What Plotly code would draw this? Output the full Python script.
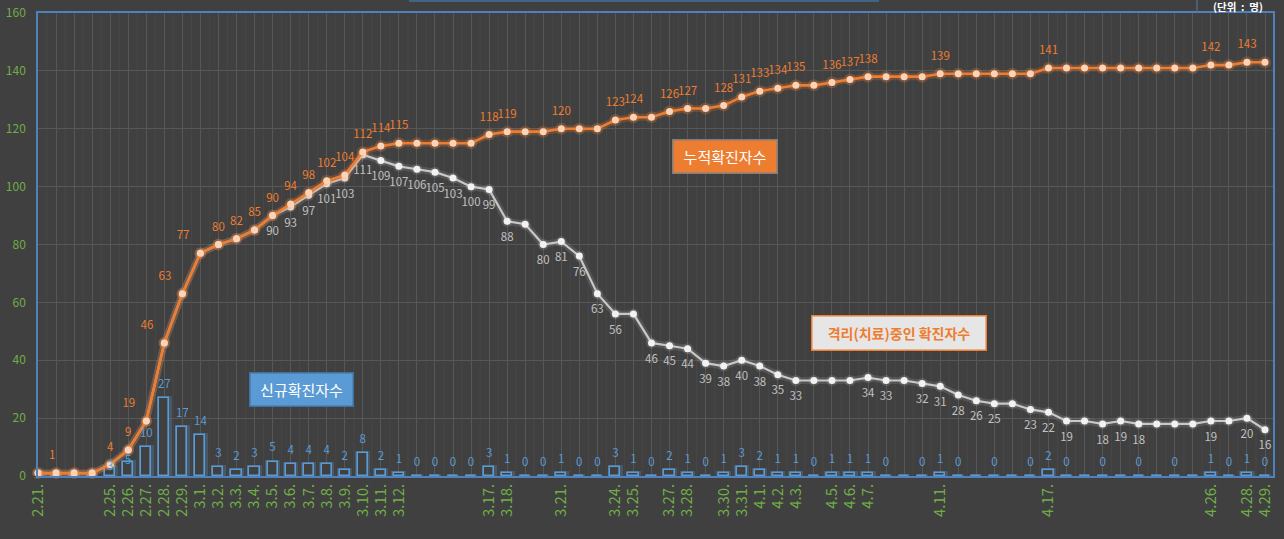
import plotly.graph_objects as go

# ---------------- data ----------------
dates = ["2.21.", "2.22.", "2.23.", "2.24.", "2.25.", "2.26.", "2.27.", "2.28.", "2.29.",
         "3.1.", "3.2.", "3.3.", "3.4.", "3.5.", "3.6.", "3.7.", "3.8.", "3.9.", "3.10.",
         "3.11.", "3.12.", "3.13.", "3.14.", "3.15.", "3.16.", "3.17.", "3.18.", "3.19.", "3.20.",
         "3.21.", "3.22.", "3.23.", "3.24.", "3.25.", "3.26.", "3.27.", "3.28.", "3.29.", "3.30.",
         "3.31.", "4.1.", "4.2.", "4.3.", "4.4.", "4.5.", "4.6.", "4.7.", "4.8.", "4.9.",
         "4.10.", "4.11.", "4.12.", "4.13.", "4.14.", "4.15.", "4.16.", "4.17.", "4.18.", "4.19.",
         "4.20.", "4.21.", "4.22.", "4.23.", "4.24.", "4.25.", "4.26.", "4.27.", "4.28.", "4.29."]

new_cases = [1, 0, 0, 0, 3, 5, 10, 27, 17,
             14, 3, 2, 3, 5, 4, 4, 4, 2, 8,
             2, 1, 0, 0, 0, 0, 3, 1, 0, 0,
             1, 0, 0, 3, 1, 0, 2, 1, 0, 1,
             3, 2, 1, 1, 0, 1, 1, 1, 0, 0,
             0, 1, 0, 0, 0, 0, 0, 2, 0, 0,
             0, 0, 0, 0, 0, 0, 1, 0, 1, 0]

cumulative = [1, 1, 1, 1, 4, 9, 19, 46, 63,
              77, 80, 82, 85, 90, 94, 98, 102, 104, 112,
              114, 115, 115, 115, 115, 115, 118, 119, 119, 119,
              120, 120, 120, 123, 124, 124, 126, 127, 127, 128,
              131, 133, 134, 135, 135, 136, 137, 138, 138, 138,
              138, 139, 139, 139, 139, 139, 139, 141, 141, 141,
              141, 141, 141, 141, 141, 141, 142, 142, 143, 143]

in_treatment = [1, 1, 1, 1, 4, 9, 19, 46, 63,
                77, 80, 82, 85, 90, 93, 97, 101, 103, 111,
                109, 107, 106, 105, 103, 100, 99, 88, 87, 80,
                81, 76, 63, 56, 56, 46, 45, 44, 39, 38,
                40, 38, 35, 33, 33, 33, 33, 34, 33, 33,
                32, 31, 28, 26, 25, 25, 23, 22, 19, 19,
                18, 19, 18, 18, 18, 18, 19, 19, 20, 16]

tick_labels = ["2.21.", "2.25.", "2.26.", "2.27.", "2.28.", "2.29.", "3.1.", "3.2.", "3.3.",
               "3.4.", "3.5.", "3.6.", "3.7.", "3.8.", "3.9.", "3.10.", "3.11.", "3.12.",
               "3.17.", "3.18.", "3.21.", "3.24.", "3.25.", "3.27.", "3.28.", "3.30.", "3.31.",
               "4.1.", "4.2.", "4.3.", "4.5.", "4.6.", "4.7.", "4.11.", "4.17.", "4.26.",
               "4.28.", "4.29."]

cum_label_dates = ["2.21.", "2.25.", "2.26.", "2.27.", "2.28.", "2.29.", "3.1.", "3.2.", "3.3.",
                   "3.4.", "3.5.", "3.6.", "3.7.", "3.8.", "3.9.", "3.10.", "3.11.", "3.12.",
                   "3.17.", "3.18.", "3.21.", "3.24.", "3.25.", "3.27.", "3.28.", "3.30.", "3.31.",
                   "4.1.", "4.2.", "4.3.", "4.5.", "4.6.", "4.7.", "4.11.", "4.17.", "4.26.", "4.28."]

treat_label_dates = ["3.5.", "3.6.", "3.7.", "3.8.", "3.9.", "3.10.", "3.11.", "3.12.", "3.13.",
                     "3.14.", "3.15.", "3.16.", "3.17.", "3.18.", "3.20.", "3.21.", "3.22.", "3.23.",
                     "3.24.", "3.26.", "3.27.", "3.28.", "3.29.", "3.30.", "3.31.", "4.1.", "4.2.",
                     "4.3.", "4.7.", "4.8.", "4.10.", "4.11.", "4.12.", "4.13.", "4.14.", "4.16.",
                     "4.17.", "4.18.", "4.20.", "4.21.", "4.22.", "4.26.", "4.28.", "4.29."]

zero_label_dates = ["3.13.", "3.14.", "3.15.", "3.16.", "3.19.", "3.20.", "3.22.", "3.23.", "3.26.",
                    "3.29.", "4.4.", "4.8.", "4.10.", "4.12.", "4.14.", "4.16.", "4.18.", "4.20.",
                    "4.22.", "4.24.", "4.27.", "4.29."]

# ---------------- styles ----------------
BG = "#404040"
GRID = "#575757"
MINOR = "#474747"
AXIS = "#4f81bd"
ORANGE = "#ed7d31"
BLUE = "#5b9bd5"
GREEN = "#70ad47"
FONT = "Noto Sans CJK KR"
NOFILL = "rgba(0,0,0,0)"

# pixel geometry of the plot area (for decorations)
L, R, T, B = 38, 1273, 13, 476
def px_x(px):
    return (px - L) / (R - L)
def px_y(py):
    return (B - py) / (B - T)

cum_pos_special = {"2.21.": "top right", "2.27.": "top left", "2.28.": "top left",
                   "2.29.": "top left", "3.1.": "top left"}
bar_pos_special = {"2.25.": "middle center", "2.26.": "middle center"}

cum_text = [str(v) if d in cum_label_dates else "" for d, v in zip(dates, cumulative)]
cum_pos = [cum_pos_special.get(d, "top center") for d in dates]
treat_text = [str(v) if d in treat_label_dates else "" for d, v in zip(dates, in_treatment)]
bar_text = []
for d, v in zip(dates, new_cases):
    if d == dates[0]:
        bar_text.append("")
    elif v > 0 or d in zero_label_dates:
        bar_text.append(str(v))
    else:
        bar_text.append("")
bar_pos = [bar_pos_special.get(d, "top center") for d in dates]
bar_col = ["#38a8f0" if d in bar_pos_special else BLUE for d in dates]

fig = go.Figure()

# bars: glow + outline
fig.add_trace(go.Bar(x=dates, y=new_cases, width=0.62,
                     marker=dict(color=NOFILL, line=dict(color="rgba(91,155,213,0.28)", width=4)),
                     hoverinfo="skip"))
fig.add_trace(go.Bar(x=dates, y=new_cases, width=0.56,
                     marker=dict(color=BG, line=dict(color=BLUE, width=1.6)),
                     hoverinfo="skip"))

# in-treatment line (glow + line)
fig.add_trace(go.Scatter(x=dates, y=in_treatment, mode="lines+markers",
                         line=dict(color="rgba(255,255,255,0.10)", width=7),
                         marker=dict(size=11, color="rgba(255,255,255,0.12)"),
                         cliponaxis=False, hoverinfo="skip"))
fig.add_trace(go.Scatter(x=dates, y=in_treatment, mode="lines+markers",
                         line=dict(color="#c8c8c8", width=2.2),
                         marker=dict(size=7, color="#f2f2f2"),
                         cliponaxis=False, hoverinfo="skip"))

# cumulative line (glow + line)
fig.add_trace(go.Scatter(x=dates, y=cumulative, mode="lines+markers",
                         line=dict(color="rgba(237,125,49,0.22)", width=7),
                         marker=dict(size=12, color="rgba(237,125,49,0.28)"),
                         cliponaxis=False, hoverinfo="skip"))
fig.add_trace(go.Scatter(x=dates, y=cumulative, mode="lines+markers",
                         line=dict(color=ORANGE, width=2.6),
                         marker=dict(size=7, color="#fbd3b8"),
                         cliponaxis=False, hoverinfo="skip"))

# data labels (transparent markers give the label offset)
fig.add_trace(go.Scatter(x=dates, y=in_treatment, mode="markers+text",
                         marker=dict(size=16, color=NOFILL),
                         text=treat_text, textposition="bottom center",
                         textfont=dict(color="#c0c0c0", size=11.5, family=FONT),
                         cliponaxis=False, hoverinfo="skip"))
fig.add_trace(go.Scatter(x=dates, y=cumulative, mode="markers+text",
                         marker=dict(size=16, color=NOFILL),
                         text=cum_text, textposition=cum_pos,
                         textfont=dict(color=ORANGE, size=11.5, family=FONT),
                         cliponaxis=False, hoverinfo="skip"))
fig.add_trace(go.Scatter(x=dates, y=new_cases, mode="markers+text",
                         marker=dict(size=10, color=NOFILL),
                         text=bar_text, textposition=bar_pos,
                         textfont=dict(color=bar_col, size=11.5, family=FONT),
                         cliponaxis=False, hoverinfo="skip"))

# minor vertical grid lines between categories
shapes = []
for i in range(len(dates)):
    shapes.append(dict(type="line", xref="x", yref="paper", x0=i + 0.5, x1=i + 0.5,
                       y0=0, y1=1, line=dict(color=MINOR, width=1), layer="below"))
# title box edge (cut off at top) and unit box
shapes.append(dict(type="rect", xref="paper", yref="paper", x0=px_x(410), x1=px_x(878),
                   y0=px_y(1), y1=px_y(-30), line=dict(color="#41719c", width=1.5),
                   fillcolor=BG, layer="above"))
shapes.append(dict(type="line", xref="paper", yref="paper", x0=px_x(1197), x1=px_x(1197),
                   y0=1, y1=px_y(-5), line=dict(color="#5a7090", width=1.2)))

annotations = [
    dict(text="누적확진자수", xref="paper", yref="paper", x=px_x(725), y=px_y(156.5),
         xanchor="center", yanchor="middle", showarrow=False,
         font=dict(color="white", size=15, family=FONT),
         bgcolor=ORANGE, bordercolor="#7f7f7f", borderwidth=1.5, borderpad=0,
         width=103, height=32),
    dict(text="<b>격리(치료)중인 확진자수</b>", xref="paper", yref="paper", x=px_x(899), y=px_y(333),
         xanchor="center", yanchor="middle", showarrow=False,
         font=dict(color=ORANGE, size=14, family=FONT),
         bgcolor="#e7e6e6", bordercolor=ORANGE, borderwidth=1.5, borderpad=0,
         width=173, height=33),
    dict(text="신규확진자수", xref="paper", yref="paper", x=px_x(301.5), y=px_y(389.5),
         xanchor="center", yanchor="middle", showarrow=False,
         font=dict(color="white", size=15, family=FONT),
         bgcolor=BLUE, bordercolor="#41719c", borderwidth=1.5, borderpad=0,
         width=102, height=32),
    dict(text="<b>(단위  :  명)</b>", xref="paper", yref="paper", x=px_x(1238), y=px_y(7),
         xanchor="center", yanchor="middle", showarrow=False,
         font=dict(color="white", size=10.5, family=FONT)),
]

fig.update_layout(
    width=1284, height=539,
    margin=dict(l=L, r=1284 - R, t=T, b=539 - B, autoexpand=False),
    paper_bgcolor=BG, plot_bgcolor=BG,
    showlegend=False, barmode="overlay", bargap=0,
    hovermode=False,
    shapes=shapes, annotations=annotations,
    font=dict(family=FONT),
)

fig.update_xaxes(
    type="category", range=[0, (R - L) / ((1265 - L) / (len(dates) - 1))],
    tickmode="array", tickvals=dates,
    ticktext=[d if d in tick_labels else "" for d in dates],
    tickangle=-90, tickfont=dict(color=GREEN, size=15, family=FONT),
    showgrid=True, gridcolor=GRID, gridwidth=1,
    showline=True, linecolor=AXIS, linewidth=1.5, mirror=True,
    ticks="", zeroline=False, automargin=False,
)
fig.update_yaxes(
    range=[0, 160], tickmode="linear", tick0=0, dtick=20,
    tickfont=dict(color=GREEN, size=12, family=FONT),
    showgrid=True, gridcolor=GRID, gridwidth=1,
    showline=True, linecolor=AXIS, linewidth=1.5, mirror=True,
    ticks="outside", ticklen=8, tickcolor=BG, zeroline=False, automargin=False,
)

fig.write_html("out.html",
               config={"displayModeBar": False},
               post_script="document.body.style.margin='0px';"
                           "document.body.style.background='" + BG + "';")
